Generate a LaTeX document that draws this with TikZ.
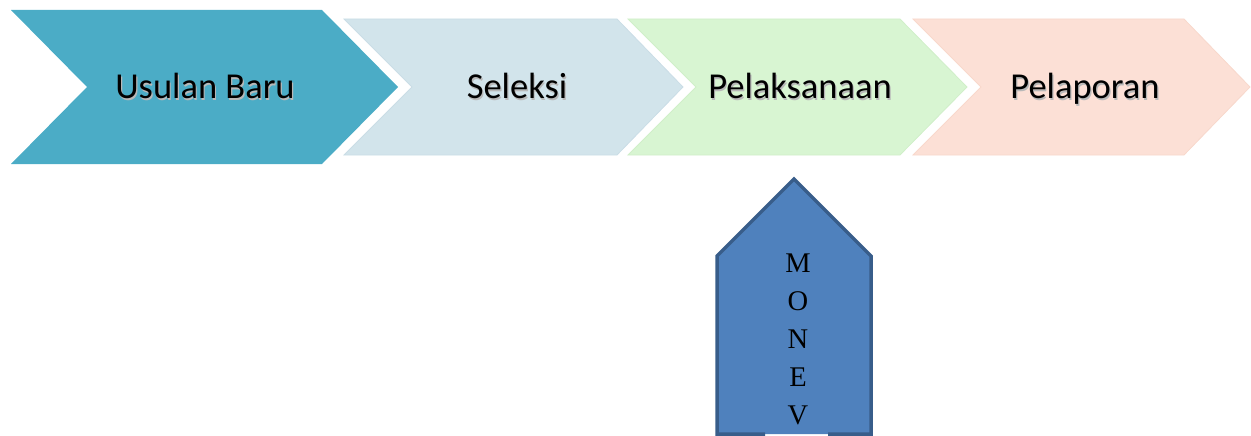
\documentclass[tikz,border=0pt]{standalone}
\usepackage{fontspec}
\setmainfont{Carlito}
\newfontfamily\serifmon{Liberation Serif}
\definecolor{cA}{HTML}{4BACC6}
\definecolor{cB}{HTML}{D2E4EB}
\definecolor{cBl}{HTML}{CADDE6}
\definecolor{cC}{HTML}{D8F5D2}
\definecolor{cCl}{HTML}{D0EFC9}
\definecolor{cD}{HTML}{FCE0D6}
\definecolor{cDl}{HTML}{F8D8CC}
\definecolor{monfill}{HTML}{4F81BD}
\definecolor{monline}{HTML}{385D8A}
\tikzset{
  lbl/.style={font=\fontsize{36.5}{40}\selectfont, text=black, inner sep=0pt, anchor=base},
  lblshadow/.style={font=\fontsize{36.5}{40}\selectfont, text=black!28, inner sep=0pt, anchor=base},
  monlbl/.style={font=\serifmon\fontsize{28.5}{30}\selectfont, text=black, inner sep=0pt, anchor=base},
}
\newcommand{\steplabel}[3]{%
  \node[lblshadow] at ([xshift=1.2pt,yshift=-1.2pt]#2) {#3};
  \node[lbl] (#1) at (#2) {#3};}
\begin{document}
\begin{tikzpicture}[x=1pt,y=-1pt]
\useasboundingbox (0,0) rectangle (1251,436);
% chevron 1
\fill[cA] (11,10) -- (322,10) -- (398,87) -- (322,164) -- (11,164) -- (87,87) -- cycle;
% chevron 2
\filldraw[fill=cB, draw=cBl, line width=0.8pt] (344,19) -- (617,19) -- (683,87) -- (617,155) -- (344,155) -- (412,87) -- cycle;
% chevron 3
\filldraw[fill=cC, draw=cCl, line width=0.8pt] (628,19) -- (900,19) -- (967,87) -- (900,155) -- (628,155) -- (696,87) -- cycle;
% chevron 4
\filldraw[fill=cD, draw=cDl, line width=0.8pt] (913,19) -- (1184,19) -- (1250,87) -- (1184,155) -- (913,155) -- (981,87) -- cycle;
\coordinate (p1) at (205,99);
\coordinate (p2) at (517,99);
\coordinate (p3) at (800,99);
\coordinate (p4) at (1085,99);
\steplabel{t1}{p1}{Usulan Baru}
\steplabel{t2}{p2}{Seleksi}
\steplabel{t3}{p3}{Pelaksanaan}
\steplabel{t4}{p4}{Pelaporan}
% MONEV arrow
\fill[monfill] (717,434) -- (717,256) -- (794,179) -- (871,256) -- (871,434) -- cycle;
\draw[monline, line width=3.5pt, line join=miter] (765,434) -- (717,434) -- (717,256) -- (794,179) -- (871,256) -- (871,434) -- (828,434);
\node[monlbl] (m1) at (798,272) {M};
\node[monlbl] (m2) at (798,310) {O};
\node[monlbl] (m3) at (798,348) {N};
\node[monlbl] (m4) at (798,386) {E};
\node[monlbl] (m5) at (798,424) {V};
\end{tikzpicture}
\end{document}
